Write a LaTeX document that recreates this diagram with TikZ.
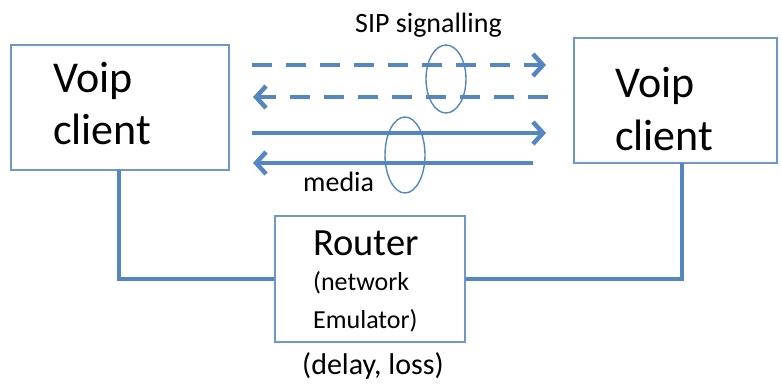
\documentclass[tikz,border=0pt]{standalone}
\usepackage{fontspec}
\setmainfont{Carlito}
\usetikzlibrary{arrows.meta,shapes.geometric}
\definecolor{lineblue}{RGB}{84,134,194}
\definecolor{boxblue}{RGB}{110,152,204}
\tikzset{
  box/.style={draw=boxblue,line width=1.6pt,fill=white,inner sep=0pt,rectangle},
  wire/.style={draw=lineblue,line width=4pt},
  flow/.style={draw=lineblue,line width=4.5pt,-{Straight Barb[length=10pt,width=22pt,line width=4.5pt]}},
  sig/.style={flow,dash pattern=on 20pt off 14pt},
  ring/.style={draw=lineblue,line width=1.4pt,ellipse,inner sep=0pt},
  txt/.style={inner sep=0pt,anchor=base west,text=black},
}
\begin{document}
\begin{tikzpicture}[x=1pt,y=-1pt]
\useasboundingbox (0,0) rectangle (782,385);
% boxes
\node[box,minimum width=218pt,minimum height=125pt] (lbox) at (120,107.5) {};
\node[box,minimum width=203pt,minimum height=125pt] (rbox) at (675.5,100.5) {};
\node[box,minimum width=190pt,minimum height=126pt] (router) at (370,279) {};
% box texts
\node[txt] (lv) at (53,93) {\fontsize{44}{44}\selectfont Voip};
\node[txt] (lc) at (53,145) {\fontsize{44}{44}\selectfont client};
\node[txt] (rv) at (615,98) {\fontsize{44}{44}\selectfont Voip};
\node[txt] (rc) at (615,151) {\fontsize{44}{44}\selectfont client};
\node[txt] (rt) at (313,255) {\fontsize{38.5}{38.5}\selectfont Router};
\node[txt] (rn) at (313,290) {\fontsize{26}{26}\selectfont (network};
\node[txt] (re) at (313,328) {\fontsize{26}{26}\selectfont Emulator)};
\node[txt] (dl) at (302,374) {\fontsize{30}{30}\selectfont (delay, loss)};
\node[txt] (sip) at (355,33) {\fontsize{28}{28}\selectfont SIP signalling};
\node[txt] (med) at (303,191) {\fontsize{28}{28}\selectfont media};
% wires
\coordinate (lw) at (119,170);
\coordinate (rw) at (682,163);
\draw[wire] (lw) |- (router.west);
\draw[wire] (rw) |- (router.east);
% arrows
\coordinate (a1s) at (252,65);  \coordinate (a1e) at (546,65);
\coordinate (a2s) at (548,97);  \coordinate (a2e) at (253,97);
\coordinate (a3s) at (252,133); \coordinate (a3e) at (546,133);
\coordinate (a4s) at (533,163); \coordinate (a4e) at (253,163);
\draw[sig] (a1s) -- (a1e);
\draw[sig] (a2s) -- (a2e);
\draw[flow] (a3s) -- (a3e);
\draw[flow] (a4s) -- (a4e);
% ellipses
\node[ring,minimum width=40pt,minimum height=68pt] (e1) at (446,79) {};
\node[ring,minimum width=40pt,minimum height=76pt] (e2) at (405,155) {};
\end{tikzpicture}
\end{document}
